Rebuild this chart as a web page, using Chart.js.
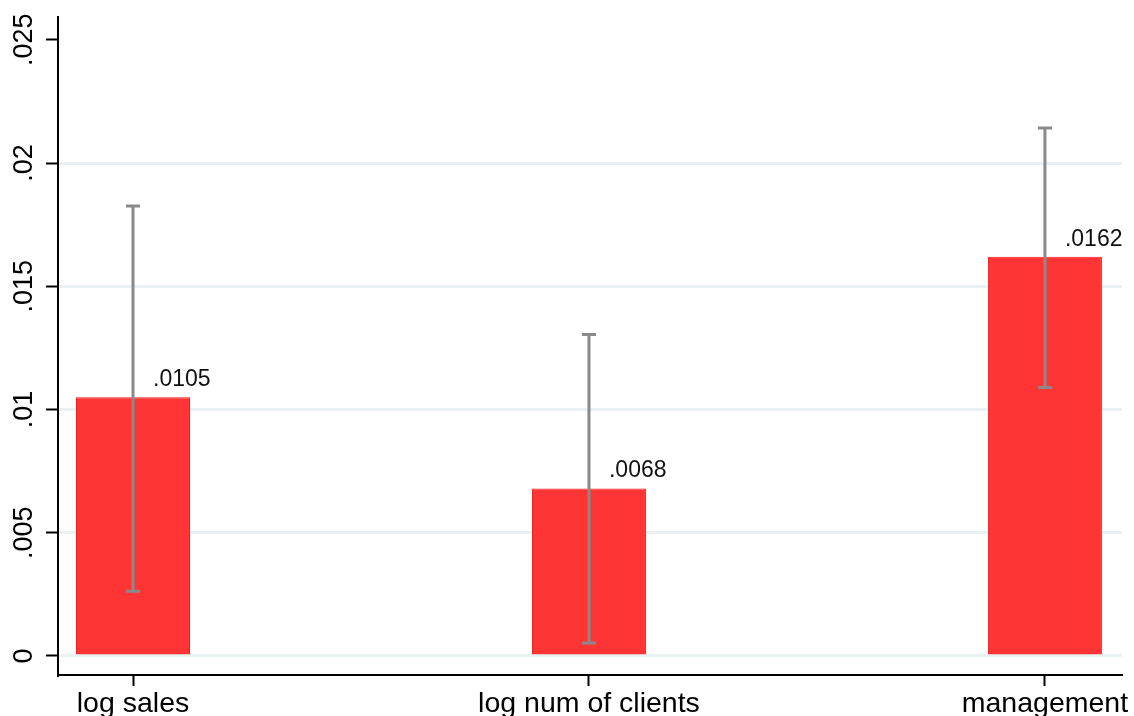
<!DOCTYPE html>
<html lang="en">
<head>
  <meta charset="UTF-8">
  <title>Coefficients</title>
  <style>
    body {
      margin: 0;
      background-color: #ffffff;
    }
    #wrap {
      width: 1134px;
      height: 716px;
    }
  </style>
  <script src="https://cdn.jsdelivr.net/npm/chart.js"></script>
</head>
<body>
  <div id="wrap">
    <canvas id="coefChart" width="1134" height="716"></canvas>
  </div>

  <script>
    // data
    const categories = ['log sales', 'log num of clients', 'management'];
    const catPositions = [1, 2, 3];
    const estimates = [0.0105, 0.0068, 0.0162];
    const ciLow = [0.00263, 0.00053, 0.01089];
    const ciHigh = [0.01826, 0.01304, 0.02142];
    const valueLabels = ['.0105', '.0068', '.0162'];
    const yTicks = [0, 0.005, 0.01, 0.015, 0.02, 0.025];

    const FONT = '"Liberation Sans", Arial, sans-serif';

    // gray confidence interval spikes with caps
    const errorBars = {
      id: 'errorBars',
      afterDatasetsDraw(chart) {
        const ctx = chart.ctx;
        const xs = chart.scales.x;
        const ys = chart.scales.y;
        ctx.save();
        ctx.strokeStyle = '#8a8a8a';
        ctx.lineWidth = 3;
        for (let i = 0; i < catPositions.length; i++) {
          const x = xs.getPixelForValue(catPositions[i]);
          const yLo = ys.getPixelForValue(ciLow[i]);
          const yHi = ys.getPixelForValue(ciHigh[i]);
          ctx.beginPath();
          ctx.moveTo(x, yLo);
          ctx.lineTo(x, yHi);
          ctx.moveTo(x - 7, yLo);
          ctx.lineTo(x + 7, yLo);
          ctx.moveTo(x - 7, yHi);
          ctx.lineTo(x + 7, yHi);
          ctx.stroke();
        }
        ctx.restore();
      }
    };

    // value labels up and to the right of each bar
    const barLabels = {
      id: 'barLabels',
      afterDatasetsDraw(chart) {
        const ctx = chart.ctx;
        const xs = chart.scales.x;
        const ys = chart.scales.y;
        ctx.save();
        ctx.fillStyle = '#111111';
        ctx.font = '23px ' + FONT;
        ctx.textAlign = 'left';
        ctx.textBaseline = 'alphabetic';
        for (let i = 0; i < catPositions.length; i++) {
          const x = xs.getPixelForValue(catPositions[i]) + 20;
          const y = ys.getPixelForValue(estimates[i]) - 11;
          ctx.fillText(valueLabels[i], x, y);
        }
        ctx.restore();
      }
    };

    new Chart(document.getElementById('coefChart'), {
      type: 'bar',
      data: {
        datasets: [{
          data: catPositions.map((p, i) => ({ x: p, y: estimates[i] })),
          backgroundColor: '#ff3434',
          borderColor: '#ff1c1c',
          borderWidth: 1,
          barPercentage: 0.25,
          categoryPercentage: 1
        }]
      },
      options: {
        responsive: false,
        animation: false,
        layout: { padding: { top: 17, right: 12, left: 0, bottom: 0 } },
        plugins: {
          legend: { display: false },
          tooltip: { enabled: false }
        },
        scales: {
          x: {
            type: 'linear',
            offset: false,
            min: 0.8355,
            max: 3.169,
            afterBuildTicks: (scale) => {
              scale.ticks = catPositions.map(v => ({ value: v }));
            },
            afterFit: (scale) => { scale.height = 41; },
            grid: {
              offset: false,
              drawOnChartArea: false,
              tickLength: 11,
              tickColor: '#000000',
              tickWidth: 2
            },
            border: { display: true, color: '#000000', width: 2 },
            ticks: {
              autoSkip: false,
              maxRotation: 0,
              padding: 1,
              color: '#000000',
              font: { family: FONT, size: 28.5 },
              callback: (v) => categories[catPositions.indexOf(v)]
            }
          },
          y: {
            min: -0.000771,
            max: 0.025923,
            afterBuildTicks: (scale) => {
              scale.ticks = yTicks.map(v => ({ value: v }));
            },
            afterFit: (scale) => { scale.width = 58; },
            grid: {
              color: (c) => (c.tick && c.tick.value === 0.025) ? 'rgba(0,0,0,0)' : '#eaf1f3',
              lineWidth: 3,
              tickLength: 12,
              tickColor: '#000000',
              tickWidth: 2
            },
            border: { display: true, color: '#000000', width: 2 },
            ticks: {
              minRotation: 90,
              maxRotation: 90,
              crossAlign: 'center',
              padding: -5,
              color: '#000000',
              font: { family: FONT, size: 27 },
              callback: (v) => v === 0 ? '0' : String(v).replace(/^0\./, '.')
            }
          }
        }
      },
      plugins: [errorBars, barLabels]
    });
  </script>
</body>
</html>
